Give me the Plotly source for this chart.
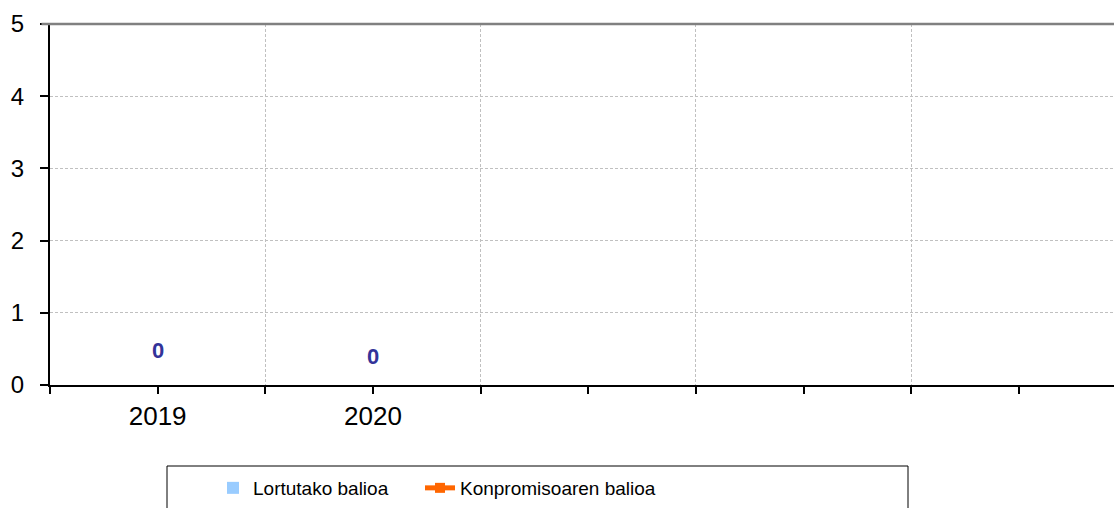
import plotly.graph_objects as go

# ---- data ----
categories = ["2019", "2020", "", "", ""]
lortutako = [0, 0, None, None, None]
konpromiso = [None, None, None, None, None]
y_ticks = [0, 1, 2, 3, 4, 5]

# ---- style ----
label_shift = [35, 29, 0, 0, 0]
x_pos = list(range(len(categories)))
W, H = 1114, 508

fig = go.Figure()
fig.add_trace(go.Bar(
    x=x_pos, y=lortutako, name="Lortutako balioa",
    marker=dict(color="#99CCFF", line=dict(color="#333333", width=0)),
    width=0.5, legend="legend",
))
fig.add_trace(go.Scatter(
    x=x_pos, y=konpromiso, name="Konpromisoaren balioa", mode="lines+markers",
    line=dict(color="#FF6600", width=5),
    marker=dict(symbol="square", size=10, color="#FF6600"),
    legend="legend2",
))

for i, v in enumerate(lortutako):
    if v is not None:
        fig.add_annotation(
            x=x_pos[i], y=v, text=f"<b>{v}</b>", showarrow=False,
            yshift=label_shift[i], yanchor="middle",
            font=dict(family="Liberation Sans, Arial", size=22, color="#333399"),
        )

grid_col = "#C0C0C0"
leg_font = dict(family="Liberation Sans Narrow, Arial Narrow, Liberation Sans, Arial",
                size=19, color="#000000")
fig.update_layout(
    width=W, height=H,
    margin=dict(l=50, r=0, t=24, b=123, autoexpand=False),
    paper_bgcolor="white", plot_bgcolor="white",
    font=dict(family="Liberation Sans, Arial", color="#000000"),
    showlegend=True,
    legend=dict(
        orientation="h", xref="container", yref="container",
        x=213 / W, xanchor="left", y=1 - 488 / H, yanchor="middle",
        font=leg_font, bgcolor="rgba(0,0,0,0)",
    ),
    legend2=dict(
        orientation="h", xref="container", yref="container",
        x=420 / W, xanchor="left", y=1 - 488 / H, yanchor="middle",
        font=leg_font, bgcolor="rgba(0,0,0,0)",
    ),
    xaxis=dict(
        range=[-0.5, -0.5 + 1064 / 215.3], automargin=False,
        tickmode="array", tickvals=x_pos, ticktext=categories,
        ticks="outside", ticklen=7, tickwidth=1.5, tickcolor="#000000",
        showgrid=False, zeroline=False,
        showline=True, linecolor="#000000", linewidth=2,
        tickfont=dict(size=26, family="Liberation Sans, Arial"),
        minor=dict(
            tickmode="array", tickvals=[-0.5, 0.5, 1.5, 2.5, 3.5, 4.5],
            ticks="outside", ticklen=7, tickwidth=1.5, tickcolor="#000000",
            showgrid=True, gridcolor=grid_col, griddash="3px,2px", gridwidth=1,
        ),
        fixedrange=True,
    ),
    yaxis=dict(
        range=[0, 5], tickmode="array", tickvals=y_ticks, automargin=False,
        ticks="outside", ticklen=8, tickwidth=1.5, tickcolor="#000000",
        showgrid=True, gridcolor=grid_col, griddash="3px,2px", gridwidth=1,
        zeroline=False, showline=True, linecolor="#000000", linewidth=2,
        tickfont=dict(size=24, family="Liberation Sans, Arial"),
        ticklabelstandoff=11,
    ),
    shapes=[
        dict(type="line", xref="paper", yref="paper", x0=-0.008, x1=1, y0=1, y1=1,
             line=dict(color="#808080", width=2.5)),
        dict(type="rect", xref="paper", yref="paper",
             x0=(167 - 50) / 1064, x1=(908 - 50) / 1064,
             y0=(385 - 466) / 361, y1=(385 - 530) / 361,
             line=dict(color="#000000", width=1), fillcolor="rgba(0,0,0,0)"),
    ],
)

fig.write_html(
    "out.html",
    config={"displayModeBar": False},
    post_script="document.body.style.margin='0';document.body.style.overflow='hidden';",
)
